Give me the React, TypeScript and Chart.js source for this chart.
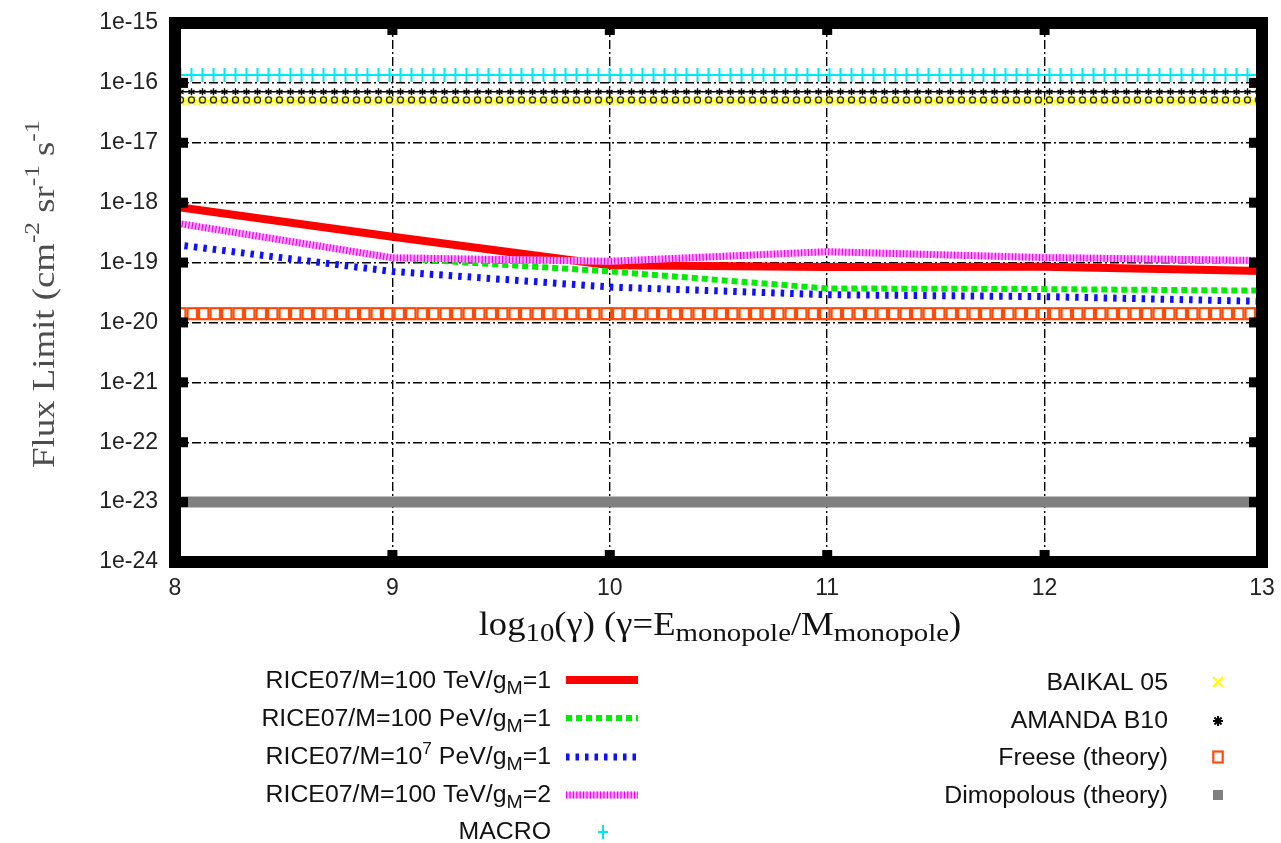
import React, { useEffect, useRef } from 'react';
import { Chart, registerables } from 'chart.js';

Chart.register(...registerables);

// ---------- data ----------
const xCats = [8, 9, 10, 11, 12, 13];
const rice100TeVg1 = [8.6e-19, 2.7e-19, 9.0e-20, 8.4e-20, 8.5e-20, 7.2e-20];
const rice100PeVg1 = [null, 1.2e-19, 7.1e-20, 3.7e-20, 3.6e-20, 3.4e-20];
const rice1e7PeVg1 = [2.0e-19, 7.1e-20, 3.9e-20, 2.9e-20, 2.7e-20, 2.25e-20];
const rice100TeVg2 = [4.6e-19, 1.2e-19, 1.05e-19, 1.52e-19, 1.21e-19, 1.08e-19];
const xRange = [8, 13];
const macroFlux = [1.36e-16, 1.36e-16];
const baikalFlux = [5.0e-17, 5.0e-17];
const amandaFlux = [7.1e-17, 7.1e-17];
const freeseFlux = [1.4e-20, 1.4e-20];
const dimopolousFlux = [1e-23, 1e-23];
const xTickValues = [8, 9, 10, 11, 12, 13];
const yTickValues = [1e-24, 1e-23, 1e-22, 1e-21, 1e-20, 1e-19, 1e-18, 1e-17, 1e-16, 1e-15];
const yTickLabels = ['1e-24', '1e-23', '1e-22', '1e-21', '1e-20', '1e-19', '1e-18', '1e-17', '1e-16', '1e-15'];

const SANS = "'Liberation Sans', Arial, sans-serif";
const SERIF = "'Liberation Serif', 'Times New Roman', serif";

type Seg = { t: string; s: number; dy?: number };

function toPts(xs: number[], ys: (number | null)[]) {
  return xs.map((x, i) => ({ x, y: ys[i] })).filter((p) => p.y !== null);
}

function drawRich(
  ctx: CanvasRenderingContext2D,
  segs: Seg[],
  x: number,
  y: number,
  align: 'left' | 'right' | 'center',
  family: string,
  color: string,
  sx = 1,
  rot = 0
) {
  ctx.save();
  ctx.fillStyle = color;
  ctx.textBaseline = 'alphabetic';
  ctx.textAlign = 'left';
  const widths = segs.map((sg) => {
    ctx.font = `${sg.s}px ${family}`;
    return ctx.measureText(sg.t).width;
  });
  const total = widths.reduce((a, b) => a + b, 0);
  const start = align === 'left' ? 0 : align === 'right' ? -total : -total / 2;
  ctx.translate(x, y);
  if (rot) ctx.rotate(rot);
  ctx.scale(sx, 1);
  let cx = start;
  segs.forEach((sg, i) => {
    ctx.font = `${sg.s}px ${family}`;
    ctx.fillText(sg.t, cx, sg.dy || 0);
    cx += widths[i];
  });
  ctx.restore();
}

function drawMarker(ctx: CanvasRenderingContext2D, kind: string, x: number, y: number) {
  ctx.save();
  if (kind === 'plus') {
    ctx.strokeStyle = '#00e8f0';
    ctx.lineWidth = 2;
    ctx.beginPath();
    ctx.moveTo(x, y - 7);
    ctx.lineTo(x, y + 7);
    ctx.moveTo(x - 5, y);
    ctx.lineTo(x + 5, y);
    ctx.stroke();
  } else if (kind === 'cross') {
    ctx.strokeStyle = '#ffff00';
    ctx.lineWidth = 2.5;
    ctx.beginPath();
    ctx.moveTo(x - 4, y - 4);
    ctx.lineTo(x + 4, y + 4);
    ctx.moveTo(x + 4, y - 4);
    ctx.lineTo(x - 4, y + 4);
    ctx.stroke();
    ctx.strokeStyle = '#222';
    ctx.lineWidth = 1.3;
    ctx.beginPath();
    ctx.arc(x, y - 1, 3, 0, Math.PI * 2);
    ctx.stroke();
  } else if (kind === 'star') {
    ctx.strokeStyle = '#000';
    ctx.lineWidth = 1.4;
    ctx.beginPath();
    for (let k = 0; k < 3; k++) {
      const a = (k * Math.PI) / 3 + Math.PI / 2;
      ctx.moveTo(x - 3.5 * Math.cos(a), y - 3.5 * Math.sin(a));
      ctx.lineTo(x + 3.5 * Math.cos(a), y + 3.5 * Math.sin(a));
    }
    ctx.stroke();
  } else if (kind === 'square') {
    ctx.strokeStyle = '#ff4a0a';
    ctx.lineWidth = 2.2;
    ctx.strokeRect(x - 4.7, y - 5.5, 9.4, 11);
  } else if (kind === 'filled') {
    ctx.fillStyle = '#808080';
    ctx.fillRect(x - 5, y - 5, 10, 10);
  }
  ctx.restore();
}

function interp(pts: { x: number; y: number }[], x: number) {
  if (pts.length === 0) return NaN;
  if (x <= pts[0].x) return pts[0].y;
  for (let i = 1; i < pts.length; i++) {
    if (x <= pts[i].x) {
      const a = pts[i - 1];
      const b = pts[i];
      return a.y + ((b.y - a.y) * (x - a.x)) / (b.x - a.x);
    }
  }
  return pts[pts.length - 1].y;
}

const leftLegend: { segs: Seg[]; base: number; sym: number; kind: string }[] = [
  { segs: [{ t: 'RICE07/M=100 TeV/g', s: 23 }, { t: 'M', s: 18, dy: 6 }, { t: '=1', s: 23 }], base: 688, sym: 680, kind: 'red' },
  { segs: [{ t: 'RICE07/M=100 PeV/g', s: 23 }, { t: 'M', s: 18, dy: 6 }, { t: '=1', s: 23 }], base: 726, sym: 718, kind: 'green' },
  { segs: [{ t: 'RICE07/M=10', s: 23 }, { t: '7', s: 16, dy: -10 }, { t: ' PeV/g', s: 23 }, { t: 'M', s: 18, dy: 6 }, { t: '=1', s: 23 }], base: 764, sym: 757, kind: 'blue' },
  { segs: [{ t: 'RICE07/M=100 TeV/g', s: 23 }, { t: 'M', s: 18, dy: 6 }, { t: '=2', s: 23 }], base: 802, sym: 795, kind: 'pink' },
  { segs: [{ t: 'MACRO', s: 23 }], base: 839, sym: 832, kind: 'plus' },
];
const rightLegend: { segs: Seg[]; base: number; sym: number; kind: string }[] = [
  { segs: [{ t: 'BAIKAL 05', s: 23 }], base: 690, sym: 682, kind: 'cross' },
  { segs: [{ t: 'AMANDA B10', s: 23 }], base: 728, sym: 721, kind: 'star' },
  { segs: [{ t: 'Freese (theory)', s: 23 }], base: 765, sym: 757, kind: 'square' },
  { segs: [{ t: 'Dimopolous (theory)', s: 23 }], base: 803, sym: 795, kind: 'filled' },
];

function sampleLine(ctx: CanvasRenderingContext2D, y: number, color: string, width: number, dash: number[]) {
  ctx.save();
  ctx.strokeStyle = color;
  ctx.lineWidth = width;
  ctx.setLineDash(dash);
  ctx.beginPath();
  ctx.moveTo(566, y);
  ctx.lineTo(638, y);
  ctx.stroke();
  ctx.restore();
}

const customPlugin = {
  id: 'customDraw',
  afterDatasetsDraw(chart: any) {
    const ctx: CanvasRenderingContext2D = chart.ctx;
    const ca = chart.chartArea;
    ctx.save();
    ctx.beginPath();
    ctx.rect(ca.left, ca.top, ca.right - ca.left, ca.bottom - ca.top);
    ctx.clip();
    chart.data.datasets.forEach((ds: any, i: number) => {
      if (!ds.markerKind) return;
      const meta = chart.getDatasetMeta(i);
      const pts = meta.data.map((p: any) => ({ x: p.x, y: p.y }));
      const step = ds.markerStep;
      for (let x = ca.left + step / 2; x < ca.right + step; x += step) {
        drawMarker(ctx, ds.markerKind, x, interp(pts, x));
      }
    });
    ctx.restore();

    ctx.save();
    ctx.strokeStyle = '#000';
    ctx.lineWidth = 12;
    ctx.strokeRect(ca.left, ca.top, ca.right - ca.left, ca.bottom - ca.top);
    ctx.fillStyle = '#000';
    const ys = chart.scales.y;
    const xs = chart.scales.x;
    yTickValues.forEach((v) => {
      const py = ys.getPixelForValue(v);
      ctx.fillRect(ca.left, py - 5, 13, 10);
      ctx.fillRect(ca.right - 13, py - 5, 13, 10);
    });
    xTickValues.forEach((v) => {
      const px = xs.getPixelForValue(v);
      ctx.fillRect(px - 5, ca.top, 10, 12);
      ctx.fillRect(px - 5, ca.bottom - 12, 10, 12);
    });
    ctx.restore();
  },
  afterDraw(chart: any) {
    const ctx: CanvasRenderingContext2D = chart.ctx;
    drawRich(
      ctx,
      [
        { t: 'Flux Limit (cm', s: 32 },
        { t: '-2', s: 22, dy: -15 },
        { t: ' sr', s: 32 },
        { t: '-1', s: 22, dy: -15 },
        { t: ' s', s: 32 },
        { t: '-1', s: 22, dy: -15 },
      ],
      54,
      468,
      'left',
      SERIF,
      '#4d4d4d',
      1.15,
      -Math.PI / 2
    );
    drawRich(
      ctx,
      [
        { t: 'log', s: 33 },
        { t: '10', s: 26, dy: 6 },
        { t: '(\u03b3) (\u03b3=E', s: 33 },
        { t: 'monopole', s: 26, dy: 6 },
        { t: '/M', s: 33 },
        { t: 'monopole', s: 26, dy: 6 },
        { t: ')', s: 33 },
      ],
      720,
      635,
      'center',
      SERIF,
      '#111',
      1.11
    );
    leftLegend.forEach((e) => {
      drawRich(ctx, e.segs, 551, e.base, 'right', SANS, '#111', 1.08);
      if (e.kind === 'red') sampleLine(ctx, e.sym, '#ff0000', 8, []);
      if (e.kind === 'green') sampleLine(ctx, e.sym, '#00ee00', 6, [6, 4]);
      if (e.kind === 'blue') sampleLine(ctx, e.sym, '#1010ff', 7, [3.5, 6]);
      if (e.kind === 'pink') {
        sampleLine(ctx, e.sym, '#ffa8ff', 7, []);
        sampleLine(ctx, e.sym, '#ee00ee', 7, [1.2, 2.2]);
      }
      if (e.kind === 'plus') drawMarker(ctx, 'plus', 603, e.sym);
    });
    rightLegend.forEach((e) => {
      drawRich(ctx, e.segs, 1168, e.base, 'right', SANS, '#111', 1.08);
      if (e.kind === 'cross') {
        ctx.save();
        ctx.strokeStyle = '#ffff00';
        ctx.lineWidth = 2.2;
        ctx.beginPath();
        ctx.moveTo(1213, e.sym - 5);
        ctx.lineTo(1223, e.sym + 5);
        ctx.moveTo(1223, e.sym - 5);
        ctx.lineTo(1213, e.sym + 5);
        ctx.stroke();
        ctx.restore();
      } else if (e.kind === 'star') {
        ctx.save();
        ctx.strokeStyle = '#000';
        ctx.lineWidth = 2;
        ctx.beginPath();
        for (let k = 0; k < 4; k++) {
          const a = (k * Math.PI) / 4;
          ctx.moveTo(1218 - 5 * Math.cos(a), e.sym - 5 * Math.sin(a));
          ctx.lineTo(1218 + 5 * Math.cos(a), e.sym + 5 * Math.sin(a));
        }
        ctx.stroke();
        ctx.restore();
      } else {
        drawMarker(ctx, e.kind, 1218, e.sym);
      }
    });
  },
};

export default function App() {
  const ref = useRef<HTMLCanvasElement | null>(null);
  useEffect(() => {
    document.body.style.margin = '0';
    const canvas = ref.current;
    if (!canvas) return;
    const hline = (vals: number[]) => xRange.map((x, i) => ({ x, y: vals[i] }));
    const datasets: any[] = [
      { label: 'RICE07/M=100 TeV/gM=1', data: toPts(xCats, rice100TeVg1), borderColor: '#ff0000', borderWidth: 8 },
      { label: 'RICE07/M=100 PeV/gM=1', data: toPts(xCats, rice100PeVg1), borderColor: '#00ee00', borderWidth: 6, borderDash: [6, 4] },
      { label: 'RICE07/M=10^7 PeV/gM=1', data: toPts(xCats, rice1e7PeVg1), borderColor: '#1010ff', borderWidth: 7, borderDash: [3.5, 6] },
      { label: 'RICE07/M=100 TeV/gM=2 base', data: toPts(xCats, rice100TeVg2), borderColor: '#ffa8ff', borderWidth: 7 },
      { label: 'RICE07/M=100 TeV/gM=2', data: toPts(xCats, rice100TeVg2), borderColor: '#ee00ee', borderWidth: 7, borderDash: [1.2, 2.2] },
      { label: 'MACRO', data: hline(macroFlux), borderColor: '#00e8f0', borderWidth: 2, markerKind: 'plus', markerStep: 11 },
      { label: 'BAIKAL 05', data: hline(baikalFlux), borderColor: '#ffff00', borderWidth: 3, markerKind: 'cross', markerStep: 11 },
      { label: 'AMANDA B10', data: hline(amandaFlux), borderColor: '#000000', borderWidth: 1.5, markerKind: 'star', markerStep: 11 },
      { label: 'Freese (theory)', data: hline(freeseFlux), borderColor: 'rgba(0,0,0,0)', borderWidth: 0, markerKind: 'square', markerStep: 11.5 },
      { label: 'Dimopolous (theory)', data: hline(dimopolousFlux), borderColor: '#808080', borderWidth: 11 },
    ];
    datasets.forEach((d, i) => {
      d.order = -i;
      d.pointRadius = 0;
      d.pointHoverRadius = 0;
      d.fill = false;
      d.tension = 0;
      d.borderCapStyle = 'butt';
    });

    const target = { left: 175, top: 23, right: 1262, bottom: 562 };
    const dims = { yWidth: 175, xHeight: 281, padTop: 23, padRight: 19 };
    const gridDash = [9, 3, 2, 3];
    const chart = new Chart(canvas, {
      type: 'line',
      data: { datasets },
      plugins: [customPlugin as any],
      options: {
        animation: false,
        responsive: false,
        devicePixelRatio: 1,
        events: [],
        layout: { padding: { left: 0, right: dims.padRight, top: dims.padTop, bottom: 0 } },
        plugins: { legend: { display: false }, tooltip: { enabled: false }, title: { display: false } },
        scales: {
          x: {
            type: 'linear',
            min: xRange[0],
            max: xRange[1],
            afterBuildTicks: (s: any) => {
              s.ticks = xTickValues.map((v) => ({ value: v }));
            },
            afterFit: (s: any) => {
              s.height = dims.xHeight;
            },
            ticks: {
              autoSkip: false,
              maxRotation: 0,
              padding: 0,
              color: '#222',
              font: { family: SANS, size: 23 },
              callback: (v: any) => String(v),
            },
            grid: { color: '#000', lineWidth: 1.4, drawTicks: true, tickLength: 13, tickColor: 'rgba(0,0,0,0)' },
            border: { display: false, dash: gridDash },
          },
          y: {
            type: 'logarithmic',
            min: yTickValues[0],
            max: yTickValues[yTickValues.length - 1],
            afterBuildTicks: (s: any) => {
              s.ticks = yTickValues.map((v) => ({ value: v }));
            },
            afterFit: (s: any) => {
              s.width = dims.yWidth;
            },
            ticks: {
              autoSkip: false,
              padding: 0,
              color: '#222',
              font: { family: SANS, size: 23 },
              callback: (_v: any, idx: number) => yTickLabels[idx],
            },
            grid: { color: '#000', lineWidth: 1.4, drawTicks: true, tickLength: 17, tickColor: 'rgba(0,0,0,0)' },
            border: { display: false, dash: gridDash },
          },
        },
      },
    } as any);

    for (let k = 0; k < 4; k++) {
      const ca = chart.chartArea;
      const dl = ca.left - target.left;
      const db = target.bottom - ca.bottom;
      if (Math.abs(dl) < 0.5 && Math.abs(db) < 0.5) break;
      dims.yWidth -= dl;
      dims.xHeight -= db;
      chart.update();
    }
    return () => chart.destroy();
  }, []);

  return (
    <div style={{ position: 'absolute', left: 0, top: 0, width: 1281, height: 843, background: '#fff' }}>
      <canvas ref={ref} width={1281} height={843} style={{ display: 'block' }} />
    </div>
  );
}
